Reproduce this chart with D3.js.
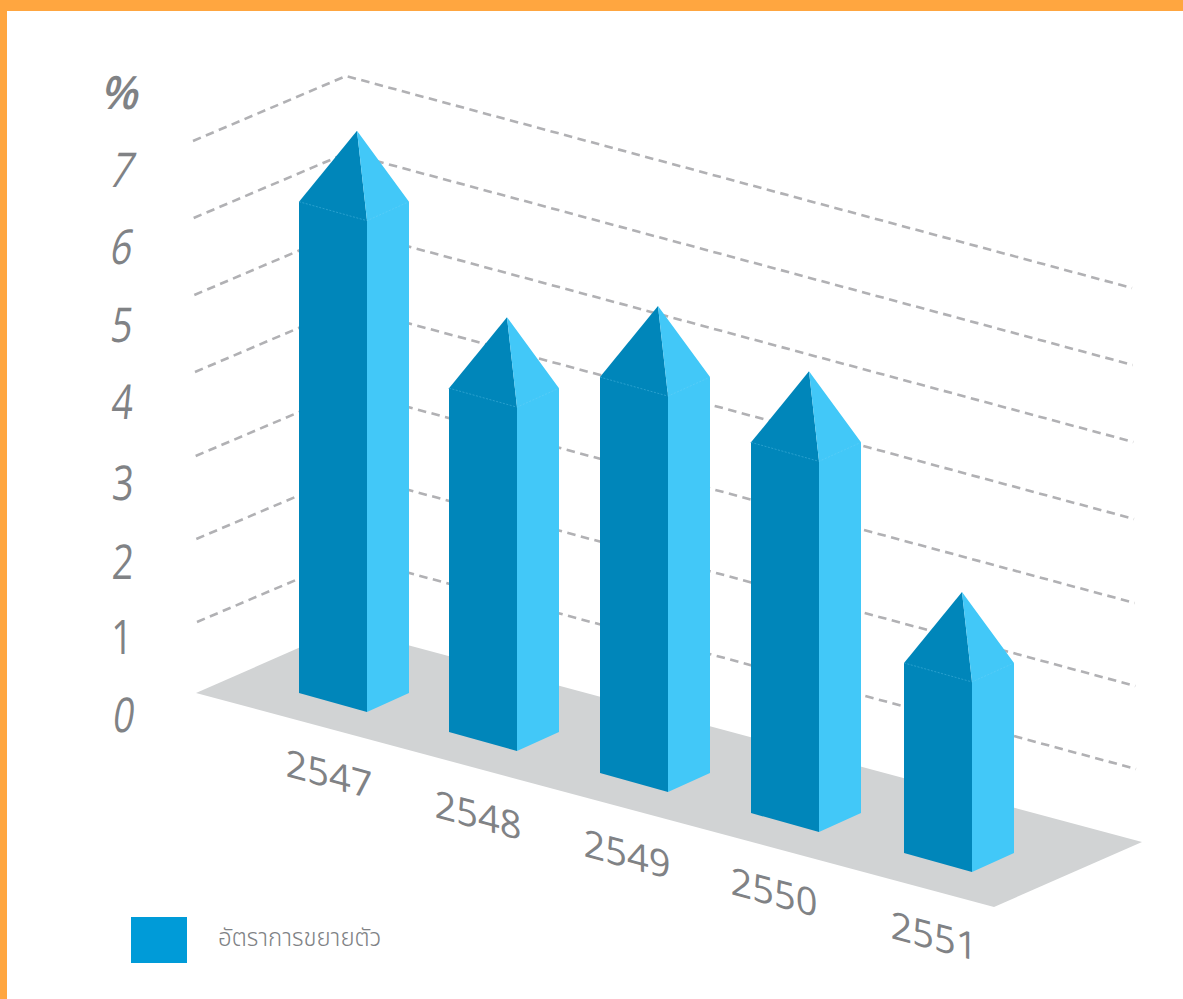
<!DOCTYPE html>
<html><head><meta charset="utf-8">
<script src="https://cdn.jsdelivr.net/npm/d3@7"></script>
<style>html,body{margin:0;padding:0;background:#fff;overflow:hidden}svg{display:block}</style>
</head><body><svg id="c" width="1183" height="999"></svg>
<script>
const categories = ["2547","2548","2549","2550","2551"];
const growth = [6.23,4.36,5.02,4.70,2.41];
const gridLevels = [1,2,3,4,5,6,7];
const yTickLabels = ["0","1","2","3","4","5","6","7","%"];
const legendLabel = "อัตราการขยายตัว";

const svg = d3.select("#c");
const W = 1183, H = 999;
const line = d3.line();

// frame
svg.append("rect").attr("width",W).attr("height",11).attr("fill","#FFA640");
svg.append("rect").attr("width",7).attr("height",H).attr("fill","#FFA640");

// projection of the oblique 3-D space
const gridY = d3.scaleLinear().domain(gridLevels).range([622,539,456,372,295,218,141]);
const gridLeftX = d3.scaleLinear().domain([1,7]).range([197,193]);
const heightScale = d3.scaleLinear().domain([0,1]).range([0,78.86]);
const barX = d3.scaleOrdinal().domain(categories).range([299,449,600,751,904]);
const barBase = d3.scaleOrdinal().domain(categories).range([693,732,773,813,853]);
const labelY = d3.scaleOrdinal().domain(yTickLabels).range([715,637,562,483,402,325,247,170,92]);
const labelX = d3.scaleOrdinal().domain(yTickLabels).range([122,122,122,122,121,120,119,118,118]);
const labelSkew = d3.scaleOrdinal().domain(yTickLabels).range([-8,0,-4,-4,-6,-8,-12,-16,-14]);
const catLabelX = d3.scaleOrdinal().domain(categories).range([329,478,627,774,934]);
const catLabelY = d3.scaleOrdinal().domain(categories).range([773,814,853,891,935]);

const frontW = 68, sideW = 42, drop = 19, apexDX = 58, apexDY = 71;

// floor
svg.append("path")
  .attr("d", line([[196,693],[344,628],[1142,842],[994,907]])+"Z")
  .attr("fill","#D1D3D4");

// dashed gridlines
svg.append("g").selectAll("path")
  .data(gridLevels)
  .join("path")
  .attr("d", v => {
    const x0 = gridLeftX(v), y0 = gridY(v);
    return line([[x0,y0],[x0+153,y0-65],[x0+939,y0+147]]);
  })
  .attr("fill","none").attr("stroke","#B1B1B4").attr("stroke-width",2.6)
  .attr("stroke-dasharray","8.5 5.5");

// bars
const bars = svg.append("g").selectAll("g")
  .data(categories.map((c,i)=>({c,v:growth[i]})))
  .join("g");

bars.each(function(d){
  const g = d3.select(this);
  const x = barX(d.c), b = barBase(d.c), t = b - heightScale(d.v);
  const FRONT = "#0086BA", SIDE = "#42C8F8";
  const ax = x+apexDX, ay = t-apexDY;
  g.append("path").attr("d",line([[x,b],[x+frontW,b+drop],[x+frontW,t+drop],[ax,ay],[x,t]])+"Z").attr("fill",FRONT);
  g.append("path").attr("d",line([[x+frontW,b+drop],[x+frontW+sideW,b],[x+frontW+sideW,t],[ax,ay],[x+frontW,t+drop]])+"Z").attr("fill",SIDE);
  g.append("path").attr("d",line([[x,t],[x+frontW,t+drop],[x+frontW+sideW,t]]))
    .attr("fill","none").attr("stroke","#7FD4F5").attr("stroke-width",0.6)
    .attr("stroke-opacity",0.55).attr("stroke-dasharray","2 1.5");
});

// y labels
svg.append("g").selectAll("text")
  .data(yTickLabels)
  .join("text")
  .attr("transform", d => `translate(${labelX(d)},${labelY(d)+17}) skewX(${labelSkew(d)}) scale(${d==="%"?0.95:0.78},1)`)
  .attr("text-anchor","middle")
  .attr("font-family","'Open Sans',sans-serif")
  .attr("font-size",d=>d==="%"?46:48)
  .attr("font-weight",d=>d==="%"?600:400)
  .attr("fill","#808285")
  .text(d=>d);

// x labels: sheared along the floor edge, verticals stay vertical
svg.append("g").selectAll("text")
  .data(categories)
  .join("text")
  .attr("transform", d => `translate(${catLabelX(d)},${catLabelY(d)}) skewY(15)`)
  .attr("text-anchor","middle").attr("dominant-baseline","central")
  .attr("font-family","'Open Sans',sans-serif").attr("font-size",38).attr("font-weight",400)
  .attr("fill","#808285")
  .text(d=>d);

// legend
svg.append("rect").attr("x",131).attr("y",917).attr("width",56).attr("height",46).attr("fill","#009BD8");
svg.append("text").attr("x",218).attr("y",946)
  .attr("font-family","'Noto Sans Thai','Noto Sans','DejaVu Sans',sans-serif").attr("font-size",24).attr("font-weight",300)
  .attr("fill","#808285").text(legendLabel);
</script></body></html>
